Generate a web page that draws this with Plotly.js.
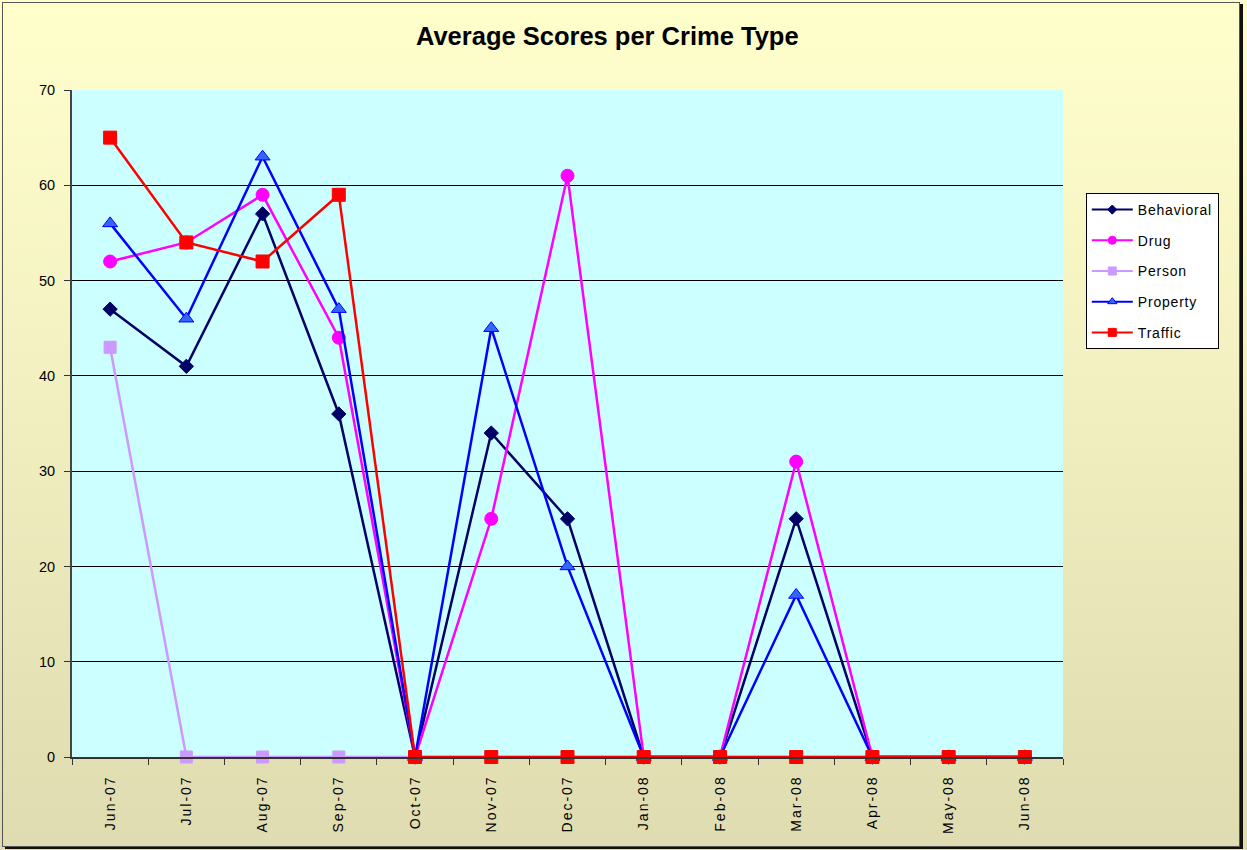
<!DOCTYPE html>
<html>
<head>
<meta charset="utf-8">
<script src="https://cdn.plot.ly/plotly-3.0.1.min.js"></script>
<style>
  html, body { margin: 0; padding: 0; }
  #wrap { position: relative; width: 1247px; height: 850px;
          background: linear-gradient(to bottom, #FFFFCC 0%, #F4F2C2 40%, #DEDCB0 100%); }
  #chart { width: 1247px; height: 850px; }
  #frame { position: absolute; left: 2px; top: 2px; width: 1236px; height: 843px;
           border: 1px solid #555; box-shadow: 3px 2px 0 #111; pointer-events: none; }
  .xtick text { letter-spacing: 2px; }
  .legendtext { letter-spacing: 0.8px; }
</style>
</head>
<body>
<div id="wrap">
  <div id="chart"></div>
  <div id="frame"></div>
</div>
<script>
const months = ["Jun-07","Jul-07","Aug-07","Sep-07","Oct-07","Nov-07","Dec-07","Jan-08","Feb-08","Mar-08","Apr-08","May-08","Jun-08"];
const seriesNames = ["Behavioral", "Drug", "Person", "Property", "Traffic"];
const behavioral = [47, 41, 57, 36, 0, 34, 25, 0, 0, 25, 0, 0, 0];
const drug       = [52, 54, 59, 44, 0, 25, 61, 0, 0, 31, 0, 0, 0];
const person     = [43, 0, 0, 0, 0, 0, 0, 0, 0, 0, 0, 0, 0];
const property   = [56, 46, 63, 47, 0, 45, 20, 0, 0, 17, 0, 0, 0];
const traffic    = [65, 54, 52, 59, 0, 0, 0, 0, 0, 0, 0, 0, 0];
const values = [behavioral, drug, person, property, traffic];

const styles = [
  { line: '#000066', fill: '#000066', edge: '#000066', symbol: 'diamond', size: 11, lsize: 7 },
  { line: '#FF00FF', fill: '#FF00FF', edge: '#FF00FF', symbol: 'circle', size: 13, lsize: 8 },
  { line: '#CC99FF', fill: '#CC99FF', edge: '#CC99FF', symbol: 'square', size: 12, lsize: 8 },
  { line: '#0000FF', fill: '#3366FF', edge: '#0000FF', symbol: 'triangle-up', size: 13, lsize: 8 },
  { line: '#FF0000', fill: '#FF0000', edge: '#FF0000', symbol: 'square', size: 13, lsize: 8 }
];

const data = [];
seriesNames.forEach((name, i) => {
  const s = styles[i];
  data.push({
    type: 'scatter', mode: 'lines+markers', name: name, x: months, y: values[i],
    showlegend: false, cliponaxis: false,
    line: { color: s.line, width: 2.5 },
    marker: { symbol: s.symbol, size: s.size, color: s.fill, line: { color: s.edge, width: 1 } }
  });
});
// legend entries (small markers like the original legend)
seriesNames.forEach((name, i) => {
  const s = styles[i];
  data.push({
    type: 'scatter', mode: 'lines+markers', name: name, x: [null], y: [null],
    legendgroup: name, showlegend: true, hoverinfo: 'skip',
    line: { color: s.line, width: 2 },
    marker: { symbol: s.symbol, size: s.lsize, color: s.fill, line: { color: s.edge, width: 1 } }
  });
});

const layout = {
  width: 1247, height: 850,
  paper_bgcolor: 'rgba(0,0,0,0)',
  plot_bgcolor: '#CCFFFF',
  margin: { l: 72, r: 184, t: 90, b: 93 },
  font: { family: 'Liberation Sans, Arial, sans-serif', size: 14, color: '#000' },
  title: { text: 'Average Scores per Crime Type',
           font: { family: 'Liberation Sans Narrow, Liberation Sans, Arial, sans-serif', size: 25.5, color: '#000', weight: 'bold' },
           x: 0.487, xanchor: 'center', xref: 'container', y: 0.957, yanchor: 'middle', yref: 'container' },
  xaxis: {
    type: 'category', tickangle: -90, tickson: 'boundaries',
    ticks: 'outside', ticklen: 6, tickcolor: '#333', tickwidth: 1,
    showgrid: false, showline: true, linecolor: '#333', linewidth: 1.5,
    zeroline: false, range: [-0.5, 12.5], automargin: false,
    ticklabelstandoff: 11,
    tickfont: { size: 14 }
  },
  yaxis: {
    range: [0, 70], dtick: 10, tick0: 0,
    ticks: 'outside', ticklen: 6, tickcolor: '#333',
    showgrid: true, gridcolor: '#000', gridwidth: 1,
    showline: true, linecolor: '#444', linewidth: 2,
    zeroline: false, automargin: false,
    ticklabelstandoff: 6,
    tickfont: { size: 14.5 }
  },
  showlegend: true,
  legend: {
    x: 1.023, xanchor: 'left', y: 0.8456, yanchor: 'top',
    bgcolor: '#FFFFFF', bordercolor: '#000', borderwidth: 1,
    font: { size: 14 }, tracegroupgap: 9.5, traceorder: 'grouped',
    itemwidth: 41
  }
};

Plotly.newPlot('chart', data, layout, { displayModeBar: false });
</script>
</body>
</html>
